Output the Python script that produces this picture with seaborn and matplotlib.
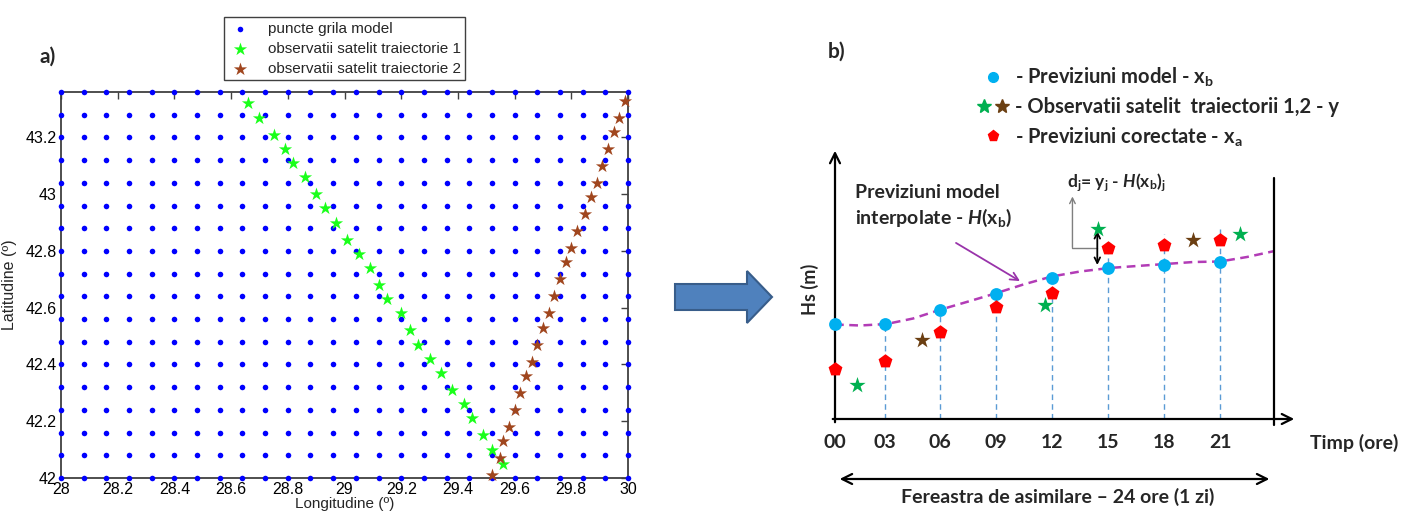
import numpy as np
import pandas as pd
import matplotlib
matplotlib.use('Agg')
import matplotlib.pyplot as plt
import seaborn as sns
from matplotlib.lines import Line2D
from matplotlib.legend_handler import HandlerTuple
from matplotlib.patches import FancyArrow

# ---------------- date panoul a) ----------------
lon_grila = [28.00, 28.08, 28.16, 28.24, 28.32, 28.40, 28.48, 28.56, 28.64, 28.72,
             28.80, 28.88, 28.96, 29.04, 29.12, 29.20, 29.28, 29.36, 29.44, 29.52,
             29.60, 29.68, 29.76, 29.84, 29.92, 30.00]
lat_grila = [42.00, 42.08, 42.16, 42.24, 42.32, 42.40, 42.48, 42.56, 42.64, 42.72,
             42.80, 42.88, 42.96, 43.04, 43.12, 43.20, 43.28, 43.36]

lon_traj1 = [28.66, 28.70, 28.75, 28.79, 28.82, 28.86, 28.90, 28.93, 28.97, 29.01,
             29.05, 29.09, 29.12, 29.15, 29.20, 29.23, 29.26, 29.30, 29.34, 29.38,
             29.42, 29.45, 29.49, 29.52, 29.56]
lat_traj1 = [43.32, 43.27, 43.21, 43.16, 43.11, 43.06, 43.00, 42.95, 42.90, 42.84,
             42.79, 42.74, 42.68, 42.63, 42.58, 42.52, 42.47, 42.42, 42.37, 42.31,
             42.26, 42.21, 42.15, 42.10, 42.05]
lon_traj2 = [29.52, 29.55, 29.56, 29.58, 29.60, 29.62, 29.64, 29.66, 29.68, 29.70,
             29.72, 29.74, 29.76, 29.78, 29.80, 29.82, 29.85, 29.87, 29.89, 29.91,
             29.93, 29.95, 29.97, 29.99]
lat_traj2 = [42.01, 42.07, 42.13, 42.18, 42.24, 42.30, 42.36, 42.41, 42.47, 42.53,
             42.58, 42.64, 42.70, 42.76, 42.81, 42.87, 42.93, 42.99, 43.04, 43.10,
             43.16, 43.22, 43.27, 43.33]

# ---------------- date panoul b) ----------------
ore_etichete = ['00', '03', '06', '09', '12', '15', '18', '21']
ore_pozitii = [0, 2.68, 5.62, 8.62, 11.62, 14.62, 17.62, 20.62]
hs_model = [1.91, 1.91, 2.19, 2.51, 2.83, 3.02, 3.09, 3.14]
hs_corectat = [1.01, 1.17, 1.74, 2.24, 2.53, 3.43, 3.48, 3.59]
obs1_ore = [1.16, 11.24, 14.06, 21.67]
obs1_hs = [0.68, 2.29, 3.81, 3.70]
obs2_ore = [4.66, 19.14]
obs2_hs = [1.59, 3.59]
curba_ore = [0, 1.34, 2.76, 4.18, 5.67, 7.23, 8.66, 10.08, 11.60, 13.12,
             14.68, 16.16, 17.68, 19.19, 20.62, 22.05, 23.53]
curba_hs = [1.89, 1.87, 1.90, 2.01, 2.19, 2.36, 2.52, 2.69, 2.85, 2.95,
            3.02, 3.06, 3.10, 3.14, 3.15, 3.24, 3.36]
linii_sus = [1.91, 2.19, 2.51, 2.83, 3.43, 3.70, 3.80]  # capatul liniilor punctate 03..21
capat_fereastra = 23.5

W, H = 1417, 512
sns.set_style('white')
plt.rcParams['font.family'] = ['Liberation Sans', 'DejaVu Sans']
plt.rcParams['mathtext.fontset'] = 'custom'
plt.rcParams['mathtext.rm'] = 'Lato:bold'
plt.rcParams['mathtext.it'] = 'Lato:italic:bold'
plt.rcParams['mathtext.bf'] = 'Lato:bold'
plt.rcParams['mathtext.default'] = 'regular'

fig = plt.figure(figsize=(W / 100, H / 100), dpi=100)

# axa de fundal in pixeli (sageata albastra, etichete a) b))
ax0 = fig.add_axes([0, 0, 1, 1])
ax0.set_xlim(0, W)
ax0.set_ylim(H, 0)
ax0.axis('off')
ax0.add_patch(FancyArrow(675, 297, 97, 0, width=26, head_width=52, head_length=25,
                         length_includes_head=True, fc='#4f81bd', ec='#385d8a', lw=1.5))
ax0.text(48, 57, 'a)', fontsize=15, fontweight='bold', ha='center', va='center',
         family=['Lato', 'DejaVu Sans'])
ax0.text(837, 52, 'b)', fontsize=15, fontweight='bold', ha='center', va='center',
         family=['Lato', 'DejaVu Sans'])

# ---------------- panoul a) ----------------
ax1 = fig.add_axes([61 / W, (H - 478) / H, (628 - 61) / W, (478 - 92) / H])
LON, LAT = np.meshgrid(lon_grila, lat_grila)
df_grila = pd.DataFrame({'lon': LON.ravel(), 'lat': LAT.ravel()})
sns.scatterplot(data=df_grila, x='lon', y='lat', ax=ax1, color='#0000ff', s=16,
                linewidth=0, marker='o', label='puncte grila model', clip_on=False, zorder=3)
sns.scatterplot(x=lon_traj1, y=lat_traj1, ax=ax1, color='#1aff1a', s=100, marker='*',
                linewidth=0, label='observatii satelit traiectorie 1', clip_on=False, zorder=4)
sns.scatterplot(x=lon_traj2, y=lat_traj2, ax=ax1, color='#a0461e', s=100, marker='*',
                linewidth=0, label='observatii satelit traiectorie 2', clip_on=False, zorder=4)
ax1.set_xlim(28, 30)
ax1.set_ylim(42, 43.36)
ax1.set_xticks([28, 28.2, 28.4, 28.6, 28.8, 29, 29.2, 29.4, 29.6, 29.8, 30])
ax1.set_xticklabels(['28', '28.2', '28.4', '28.6', '28.8', '29', '29.2', '29.4', '29.6', '29.8', '30'])
ax1.set_yticks([42, 42.2, 42.4, 42.6, 42.8, 43, 43.2])
ax1.set_yticklabels(['42', '42.2', '42.4', '42.6', '42.8', '43', '43.2'])
ax1.tick_params(direction='in', length=5, width=1, top=True, right=True,
                labelsize=11.5, colors='#404040', labelcolor='black', pad=3)
for sp in ax1.spines.values():
    sp.set_color('#404040')
    sp.set_linewidth(1.3)
ax1.set_xlabel('Longitudine (º)', fontsize=11)
ax1.set_ylabel('Latitudine (º)', fontsize=11.5)
ax1.xaxis.set_label_coords(0.5, -0.049)
ax1.yaxis.set_label_coords(-0.077, 0.5)
leg1 = ax1.legend(loc='lower center', bbox_to_anchor=(0.5, 1.03), fontsize=11,
                  frameon=True, fancybox=False, edgecolor='#404040', framealpha=1,
                  handlelength=1.5, handletextpad=1.1, borderpad=0.3, labelspacing=0.4,
                  borderaxespad=0)
leg1.get_frame().set_linewidth(1.0)

# ---------------- panoul b) ----------------
ax2 = fig.add_axes([826 / W, (H - 419) / H, (1300 - 826) / W, (419 - 148) / H])
ax2.set_xlim(-0.482, 24.89)
ax2.set_ylim(0, 5.42)
for sp in ax2.spines.values():
    sp.set_visible(False)
ax2.set_yticks([])
ax2.set_xticks(ore_pozitii)
ax2.set_xticklabels(ore_etichete, fontsize=14, fontweight='bold', family=['Lato', 'DejaVu Sans'])
ax2.tick_params(axis='x', direction='inout', length=11, width=1.6, pad=5, color='black')

ax2.vlines(ore_pozitii[1:], 0, linii_sus, colors='#5b9bd5', linestyles=(0, (4, 3)),
           linewidth=1, zorder=1)
sns.lineplot(x=curba_ore, y=curba_hs, ax=ax2, sort=False, color='#b23cb6', linewidth=1.8,
             zorder=2, estimator=None)
ax2.lines[-1].set_dashes((3.5, 2.2))
sns.scatterplot(x=ore_pozitii, y=hs_model, ax=ax2, color='#00b0f0', s=85, marker='o',
                linewidth=0, zorder=4, clip_on=False, legend=False)
sns.scatterplot(x=ore_pozitii, y=hs_corectat, ax=ax2, color='#ff0000', s=110, marker='p',
                linewidth=0, zorder=4, clip_on=False, legend=False)
sns.scatterplot(x=obs1_ore, y=obs1_hs, ax=ax2, color='#00b050', s=150, marker='*',
                linewidth=0, zorder=4, legend=False)
sns.scatterplot(x=obs2_ore, y=obs2_hs, ax=ax2, color='#6b3f12', s=150, marker='*',
                linewidth=0, zorder=4, legend=False)

sageata = dict(arrowstyle='->', color='black', lw=1.6, mutation_scale=18)
ax2.annotate('', xy=(24.73, 0), xytext=(-0.27, 0), arrowprops=sageata, annotation_clip=False)
ax2.annotate('', xy=(0, 5.42), xytext=(0, -0.12), arrowprops=sageata, annotation_clip=False)
ax2.plot([capat_fereastra, capat_fereastra], [-0.12, 4.82], color='black', lw=1.6, clip_on=False)
ax2.annotate('', xy=(0.1, -1.2), xytext=(23.4, -1.2),
             arrowprops=dict(arrowstyle='<->', color='black', lw=1.6, mutation_scale=18),
             annotation_clip=False)

# adnotari
ax2.annotate('', xy=(10.03, 2.73), xytext=(6.35, 3.55),
             arrowprops=dict(arrowstyle='->', color='#9933aa', lw=1.3, mutation_scale=14),
             annotation_clip=False)
ax2.plot([14.04, 12.71], [3.43, 3.43], color='#7f7f7f', lw=1)
ax2.annotate('', xy=(12.71, 4.45), xytext=(12.71, 3.43),
             arrowprops=dict(arrowstyle='->', color='#7f7f7f', lw=1, mutation_scale=10,
                             shrinkA=0, shrinkB=0), annotation_clip=False)
ax2.annotate('', xy=(14.04, 3.76), xytext=(14.04, 3.08),
             arrowprops=dict(arrowstyle='<->', color='black', lw=1.3, mutation_scale=10,
                             shrinkA=0, shrinkB=0), annotation_clip=False)

fb = dict(fontweight='bold', family=['Lato', 'DejaVu Sans'])
ax2.text(1.07, 4.52, 'Previziuni model', fontsize=14, ha='left', va='center', **fb)
ax2.text(1.07, 4.02, r'interpolate - $\mathit{H}(x_b)$', fontsize=14, ha='left', va='center', **fb)
ax2.text(12.42, 4.72, r'$d_j$= $y_j$ - $\mathit{H}(x_b)_j$', fontsize=12.5, ha='left', va='center', **fb)
ax2.text(-1.34, 2.6, 'Hs (m)', fontsize=13, rotation=90, ha='center', va='center', **fb)
ax2.text(25.43, -0.48, 'Timp (ore)', fontsize=14, ha='left', va='center', **fb)
ax2.text(11.9, -1.56, 'Fereastra de asimilare – 24 ore (1 zi)', fontsize=14,
         ha='center', va='center', **fb)

h_model = Line2D([], [], ls='', marker='o', color='#00b0f0', markersize=7)
h_obs1 = Line2D([], [], ls='', marker='*', color='#00b050', markersize=10)
h_obs2 = Line2D([], [], ls='', marker='*', color='#6b3f12', markersize=10)
h_cor = Line2D([], [], ls='', marker='p', color='#ff0000', markersize=8)
leg2 = ax2.legend([h_model, (h_obs1, h_obs2), h_cor],
                  [r'- Previziuni model - $x_b$', '- Observatii satelit  traiectorii 1,2 - y',
                   r'- Previziuni corectate - $x_a$'],
                  handler_map={tuple: HandlerTuple(ndivide=None, pad=0.2)},
                  loc='upper left', bbox_to_anchor=(977 / W, (H - 66) / H),
                  bbox_transform=fig.transFigure, frameon=False, handlelength=1.6,
                  handletextpad=0.3, borderpad=0, borderaxespad=0, labelspacing=0.4,
                  prop={'family': ['Lato', 'DejaVu Sans'], 'weight': 'bold', 'size': 14.5})

fig.savefig('out.png', dpi=100)
